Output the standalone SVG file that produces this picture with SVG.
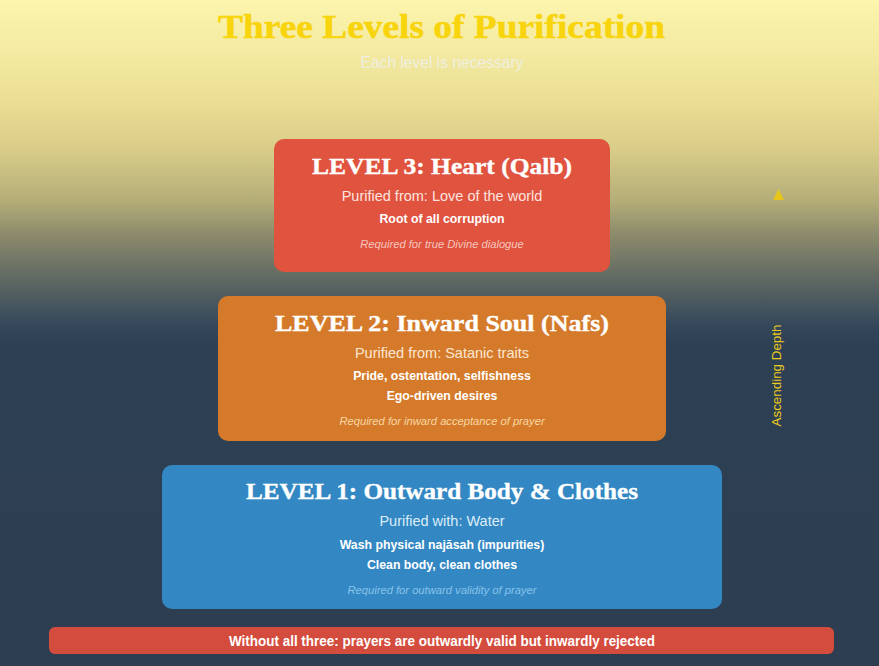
<svg xmlns="http://www.w3.org/2000/svg" width="879" height="666" viewBox="0 0 879 666">
  <defs>
    <linearGradient id="bg" x1="0" y1="0" x2="0" y2="666" gradientUnits="userSpaceOnUse">
      <stop offset="0" stop-color="#fdf5ad"/>
      <stop offset="0.15" stop-color="#ebdf95"/>
      <stop offset="0.225" stop-color="#d8cc88"/>
      <stop offset="0.30" stop-color="#b5ae78"/>
      <stop offset="0.35" stop-color="#8e8c6c"/>
      <stop offset="0.40" stop-color="#6c7264"/>
      <stop offset="0.45" stop-color="#4c5a60"/>
      <stop offset="0.49" stop-color="#34465a"/>
      <stop offset="0.52" stop-color="#2e4053"/>
      <stop offset="1" stop-color="#2c3e50"/>
    </linearGradient>
    <style>
      .ttl { font-family: "Liberation Serif", "DejaVu Serif", serif; font-weight: bold; fill: #ffffff; stroke: #ffffff; stroke-width: 0.35; text-anchor: middle; }
      .sans { font-family: "Liberation Sans", Arial, sans-serif; text-anchor: middle; }
      .sub { font-size: 14.5px; }
      .det { font-size: 12.3px; font-weight: bold; fill: #ffffff; }
      .note { font-size: 11.2px; font-style: italic; }
    </style>
  </defs>

  <rect x="0" y="0" width="879" height="666" fill="url(#bg)"/>

  <g id="header">
    <text class="ttl" x="441.5" y="38" font-size="33" style="fill:#f7d40c;stroke:#f7d40c;stroke-width:0.5" textLength="447" lengthAdjust="spacingAndGlyphs">Three Levels of Purification</text>
    <text class="sans" x="442" y="68" font-size="15.6" fill="#eef1ee" fill-opacity="0.85">Each level is necessary</text>
  </g>

  <g id="level3">
    <rect x="274" y="139" width="336" height="133" rx="10" fill="#e0533f"/>
    <text class="ttl" x="442" y="174" font-size="23" textLength="260" lengthAdjust="spacingAndGlyphs">LEVEL 3: Heart (Qalb)</text>
    <text class="sans sub" x="442" y="201" fill="#fde4df">Purified from: Love of the world</text>
    <text class="sans det" x="442" y="223">Root of all corruption</text>
    <text class="sans note" x="442" y="248" fill="#f7c6bd">Required for true Divine dialogue</text>
  </g>

  <g id="level2">
    <rect x="218" y="296" width="448" height="145" rx="10" fill="#d57a2a"/>
    <text class="ttl" x="442" y="331" font-size="23" textLength="334" lengthAdjust="spacingAndGlyphs">LEVEL 2: Inward Soul (Nafs)</text>
    <text class="sans sub" x="442" y="358" fill="#fbe7d3">Purified from: Satanic traits</text>
    <text class="sans det" x="442" y="380">Pride, ostentation, selfishness</text>
    <text class="sans det" x="442" y="400">Ego-driven desires</text>
    <text class="sans note" x="442" y="425" fill="#f8d7a4">Required for inward acceptance of prayer</text>
  </g>

  <g id="level1">
    <rect x="162" y="465" width="560" height="144" rx="10" fill="#3388c3"/>
    <text class="ttl" x="442" y="499" font-size="23" textLength="392" lengthAdjust="spacingAndGlyphs">LEVEL 1: Outward Body &amp; Clothes</text>
    <text class="sans sub" x="442" y="526" fill="#dcedf8">Purified with: Water</text>
    <text class="sans det" x="442" y="549">Wash physical najāsah (impurities)</text>
    <text class="sans det" x="442" y="569">Clean body, clean clothes</text>
    <text class="sans note" x="442" y="594" fill="#88c3ea">Required for outward validity of prayer</text>
  </g>

  <g id="connectors">
    <polygon points="778.5,189 773,200 784,200" fill="#e8c51a"/>
    <text class="sans" transform="translate(780.5,375.5) rotate(-90)" font-size="13.4" fill="#eccb1c">Ascending Depth</text>
  </g>

  <g id="footer">
    <rect x="49" y="627" width="785" height="27" rx="6" fill="#d44c3d"/>
    <text class="sans" x="442" y="646" font-size="14" font-weight="bold" fill="#ffffff" textLength="426" lengthAdjust="spacingAndGlyphs">Without all three: prayers are outwardly valid but inwardly rejected</text>
  </g>
</svg>
